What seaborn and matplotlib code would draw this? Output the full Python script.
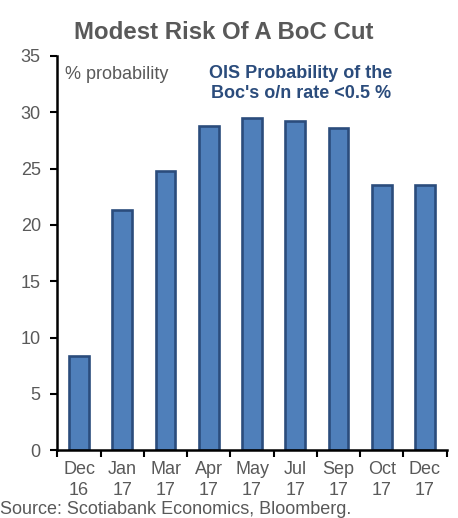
import matplotlib
matplotlib.use("Agg")
import matplotlib.pyplot as plt
import seaborn as sns
import pandas as pd

categories = ["Dec\n16", "Jan\n17", "Mar\n17", "Apr\n17", "May\n17", "Jul\n17", "Sep\n17", "Oct\n17", "Dec\n17"]
values = [8.4, 21.3, 24.8, 28.8, 29.5, 29.2, 28.6, 23.5, 23.5]
yticks = [0, 5, 10, 15, 20, 25, 30, 35]

sns.set_style("white")
plt.rcParams['font.family'] = ['Liberation Sans', 'DejaVu Sans']

df = pd.DataFrame({"cat": categories, "val": values})

fs = 13
fig = plt.figure(figsize=(4.58, 5.18), dpi=100)
ax = fig.add_axes([0.1255, 0.131, 0.8495, 0.761])
sns.barplot(data=df, x="cat", y="val", ax=ax, color="#4F7FBA", width=0.46,
            edgecolor="#2B4C7C", linewidth=1.9, saturation=1)

gray = "#595959"
ax.set_ylim(0, 35)
ax.set_xlim(-0.5, len(categories) - 0.5)
ax.set_yticks(yticks)
ax.set_yticklabels([str(t) for t in yticks], fontsize=fs, color=gray)
ax.set_xlabel("")
ax.set_ylabel("")
ax.tick_params(axis="y", direction="out", length=5, width=1.5, color="black", pad=7, left=True)
ax.set_xticks(range(len(categories)))
ax.set_xticklabels(categories, fontsize=fs, color=gray, linespacing=1.3)
ax.tick_params(axis="x", length=0, pad=8)
# minor ticks at category boundaries
ax.set_xticks([i - 0.5 for i in range(len(categories) + 1)], minor=True)
ax.tick_params(axis="x", which="minor", direction="out", length=5, width=1.5, color="black", bottom=True)
for s in ["top", "right"]:
    ax.spines[s].set_visible(False)
for s in ["left", "bottom"]:
    ax.spines[s].set_color("black")
    ax.spines[s].set_linewidth(1.8)

ax.text(0.02, 0.975, "% probability", transform=ax.transAxes, fontsize=fs, color=gray,
        ha="left", va="top")
ax.text(0.626, 0.977, "OIS Probability of the\nBoc's o/n rate <0.5 %", transform=ax.transAxes,
        fontsize=fs, color="#2B4C7C", fontweight="bold", ha="center", va="top", linespacing=1.2)

fig.text(0.489, 0.938, "Modest Risk Of A BoC Cut", fontsize=17.3, fontweight="bold", color=gray,
         ha="center", va="center")
fig.text(0.0, 0.0, "Source: Scotiabank Economics, Bloomberg.", fontsize=fs, color=gray,
         ha="left", va="bottom")

fig.savefig("out.png", dpi=100)
